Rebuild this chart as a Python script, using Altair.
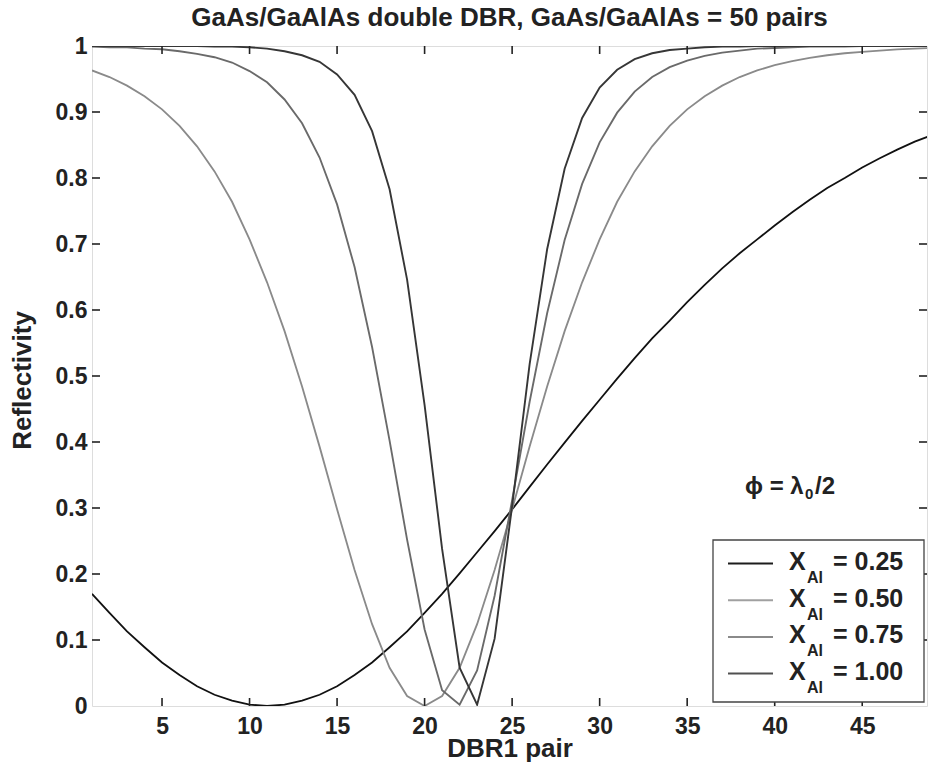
import altair as alt
import pandas as pd

# ---------------- data ----------------
N = list(range(1, 50))  # DBR1 pair count

r025 = [0.170, 0.141, 0.113, 0.089, 0.066, 0.047, 0.030, 0.017, 0.008, 0.002,
        0.000,
        0.002, 0.008, 0.017, 0.030, 0.047, 0.066, 0.089, 0.113, 0.141, 0.170,
        0.201, 0.233, 0.265, 0.298, 0.332, 0.366, 0.399, 0.432, 0.464, 0.496,
        0.527, 0.557, 0.584, 0.612, 0.638, 0.663, 0.686, 0.707, 0.728, 0.748,
        0.767, 0.785, 0.800, 0.816, 0.830, 0.843, 0.855, 0.865]

r050 = [0.963, 0.953, 0.940, 0.924, 0.904, 0.879, 0.848, 0.810, 0.764, 0.707,
        0.642, 0.568, 0.484, 0.393, 0.298, 0.206, 0.124, 0.058, 0.015,
        0.000,
        0.015, 0.058, 0.124, 0.206, 0.298, 0.393, 0.484, 0.568, 0.642, 0.707,
        0.764, 0.810, 0.848, 0.879, 0.904, 0.924, 0.940, 0.953, 0.963,
        0.971, 0.977, 0.982, 0.986, 0.989, 0.991, 0.993, 0.995, 0.996, 0.997]

r075 = [0.999, 0.998, 0.998, 0.996, 0.995, 0.992, 0.988, 0.983, 0.975, 0.962,
        0.945, 0.919, 0.883, 0.831, 0.760, 0.665, 0.544, 0.402, 0.252, 0.116,
        0.024, 0.002,
        0.054, 0.167, 0.312, 0.461, 0.595, 0.706, 0.791, 0.854, 0.899, 0.931,
        0.953, 0.968, 0.978, 0.985, 0.990, 0.993, 0.996, 0.997, 0.998, 0.999,
        0.999, 0.999, 1.000, 1.000, 1.000, 1.000, 1.000]

r100 = [1.000, 1.000, 1.000, 1.000, 1.000, 1.000, 1.000, 0.999, 0.999, 0.998,
        0.996, 0.992, 0.986, 0.976, 0.957, 0.926, 0.871, 0.783, 0.646, 0.456,
        0.238, 0.058, 0.002,
        0.102, 0.303, 0.518, 0.692, 0.814, 0.891, 0.937, 0.964, 0.980, 0.989,
        0.994, 0.996, 0.998, 0.999, 0.999,
        1.000, 1.000, 1.000, 1.000, 1.000, 1.000, 1.000, 1.000, 1.000, 1.000, 1.000]

series_names = ["0.25", "0.50", "0.75", "1.00"]
series_values = [r025, r050, r075, r100]

x_ticks = [5, 10, 15, 20, 25, 30, 35, 40, 45]
y_ticks = [0, 0.1, 0.2, 0.3, 0.4, 0.5, 0.6, 0.7, 0.8, 0.9, 1]

title_text = "GaAs/GaAlAs double DBR, GaAs/GaAlAs = 50 pairs"
x_title = "DBR1 pair"
y_title = "Reflectivity"

# ---------------- styles ----------------
line_colors = ["#111111", "#8a8a8a", "#6a6a6a", "#363636"]
line_widths = [1.8, 1.9, 2.0, 2.4]
legend_colors = ["#1c1c1c", "#a0a0a0", "#8a8a8a", "#505050"]
FONT = "Liberation Sans, Arial, sans-serif"
TXT = "#222"
W, H = 835, 660

rows = []
for name, vals in zip(series_names, series_values):
    for n, v in zip(N, vals):
        rows.append({"N": n, "R": v, "series": name})
df = pd.DataFrame(rows)

xscale = alt.Scale(domain=[1, 48.7], nice=False, zero=False)
yscale = alt.Scale(domain=[0, 1], nice=False, zero=False)

x_axis = alt.Axis(values=x_ticks, title=x_title, ticks=False, tickSize=0,
                  domain=False, grid=False, labelFontSize=23,
                  labelFont=FONT, labelFontWeight="bold", labelColor=TXT,
                  labelPadding=9, titleFontSize=26, titleFont=FONT,
                  titleFontWeight="bold", titleColor=TXT,
                  titleY=29, titleBaseline="top")
y_axis = alt.Axis(values=y_ticks, title=y_title, ticks=False, tickSize=0,
                  domain=False, grid=False, labelFontSize=23,
                  labelFont=FONT, labelFontWeight="bold", labelColor=TXT,
                  labelPadding=5,
                  labelExpr="datum.value == 0 ? '0' : datum.value == 1 ? '1' : format(datum.value, '.1f')",
                  titleFontSize=26, titleFont=FONT, titleFontWeight="bold",
                  titleColor=TXT, titleX=-70, titleY=334,
                  titleAngle=270, titleBaseline="middle")

lines = alt.Chart(df).mark_line(clip=True).encode(
    x=alt.X("N:Q", scale=xscale, axis=x_axis),
    y=alt.Y("R:Q", scale=yscale, axis=y_axis),
    color=alt.Color("series:N", scale=alt.Scale(domain=series_names, range=line_colors), legend=None),
    strokeWidth=alt.StrokeWidth("series:N", scale=alt.Scale(domain=series_names, range=line_widths), legend=None),
    order=alt.Order("N:Q"),
)

xt = pd.DataFrame({"t": x_ticks})
yt = pd.DataFrame({"t": y_ticks[1:-1]})
tick_style = dict(color="#222", strokeWidth=1.6)

tick_bottom = alt.Chart(xt).mark_rule(**tick_style).encode(
    x=alt.X("t:Q", scale=xscale, axis=x_axis), y=alt.value(H), y2=alt.value(H - 8))
tick_top = alt.Chart(xt).mark_rule(**tick_style).encode(
    x=alt.X("t:Q", scale=xscale, axis=x_axis), y=alt.value(0), y2=alt.value(8))
tick_left = alt.Chart(yt).mark_rule(**tick_style).encode(
    y=alt.Y("t:Q", scale=yscale, axis=y_axis), x=alt.value(0), x2=alt.value(8))
tick_right = alt.Chart(yt).mark_rule(**tick_style).encode(
    y=alt.Y("t:Q", scale=yscale, axis=y_axis), x=alt.value(W), x2=alt.value(W - 8))

one = pd.DataFrame({"a": [0]})

# ---------------- chart title as text ----------------
title_layer = alt.Chart(one).mark_text(
    text=title_text, align="center", baseline="alphabetic",
    fontSize=26, font=FONT, fontWeight="bold", color=TXT).encode(
    x=alt.value(W / 2), y=alt.value(-20))

# ---------------- legend (built by hand, with subscripts) ----------------
legend_layers = [
    alt.Chart(one).mark_rect(fill="white", stroke="#444", strokeWidth=1.3).encode(
        x=alt.value(621), x2=alt.value(832), y=alt.value(494), y2=alt.value(656))
]
for i, (name, col) in enumerate(zip(series_names, legend_colors)):
    base_y = 524 + 36.7 * i
    legend_layers.append(
        alt.Chart(one).mark_rule(color=col, strokeWidth=2).encode(
            x=alt.value(636), x2=alt.value(681), y=alt.value(base_y - 6.5)))
    legend_layers.append(
        alt.Chart(one).mark_text(text="X", align="left", baseline="alphabetic",
                                 fontSize=25, font=FONT, fontWeight="bold", color=TXT).encode(
            x=alt.value(697), y=alt.value(base_y)))
    legend_layers.append(
        alt.Chart(one).mark_text(text="Al", align="left", baseline="alphabetic",
                                 fontSize=16, font=FONT, fontWeight="bold", color=TXT).encode(
            x=alt.value(715), y=alt.value(base_y + 13)))
    legend_layers.append(
        alt.Chart(one).mark_text(text="= " + name, align="left", baseline="alphabetic",
                                 fontSize=25, font=FONT, fontWeight="bold", color=TXT).encode(
            x=alt.value(741), y=alt.value(base_y)))

# ---------------- annotation phi = lambda_0 / 2 ----------------
annot = [
    alt.Chart(one).mark_text(text="ϕ = λ", align="left", baseline="alphabetic",
                             fontSize=24, font=FONT, fontWeight="bold", color=TXT).encode(
        x=alt.value(653), y=alt.value(448)),
    alt.Chart(one).mark_text(text="0", align="left", baseline="alphabetic",
                             fontSize=15, font=FONT, fontWeight="bold", color=TXT).encode(
        x=alt.value(713), y=alt.value(453)),
    alt.Chart(one).mark_text(text="/2", align="left", baseline="alphabetic",
                             fontSize=24, font=FONT, fontWeight="bold", color=TXT).encode(
        x=alt.value(723), y=alt.value(448)),
]

chart = alt.layer(
    lines, tick_bottom, tick_top, tick_left, tick_right, title_layer, *annot, *legend_layers
).properties(
    width=W, height=H,
    autosize=alt.AutoSizeParams(type="none"),
    padding={"left": 92, "top": 46, "right": 1, "bottom": 57},
).configure_view(
    stroke="#222", strokeWidth=2
).configure(background="white")

chart.save("out.html", embed_options={"renderer": "svg", "actions": False})
